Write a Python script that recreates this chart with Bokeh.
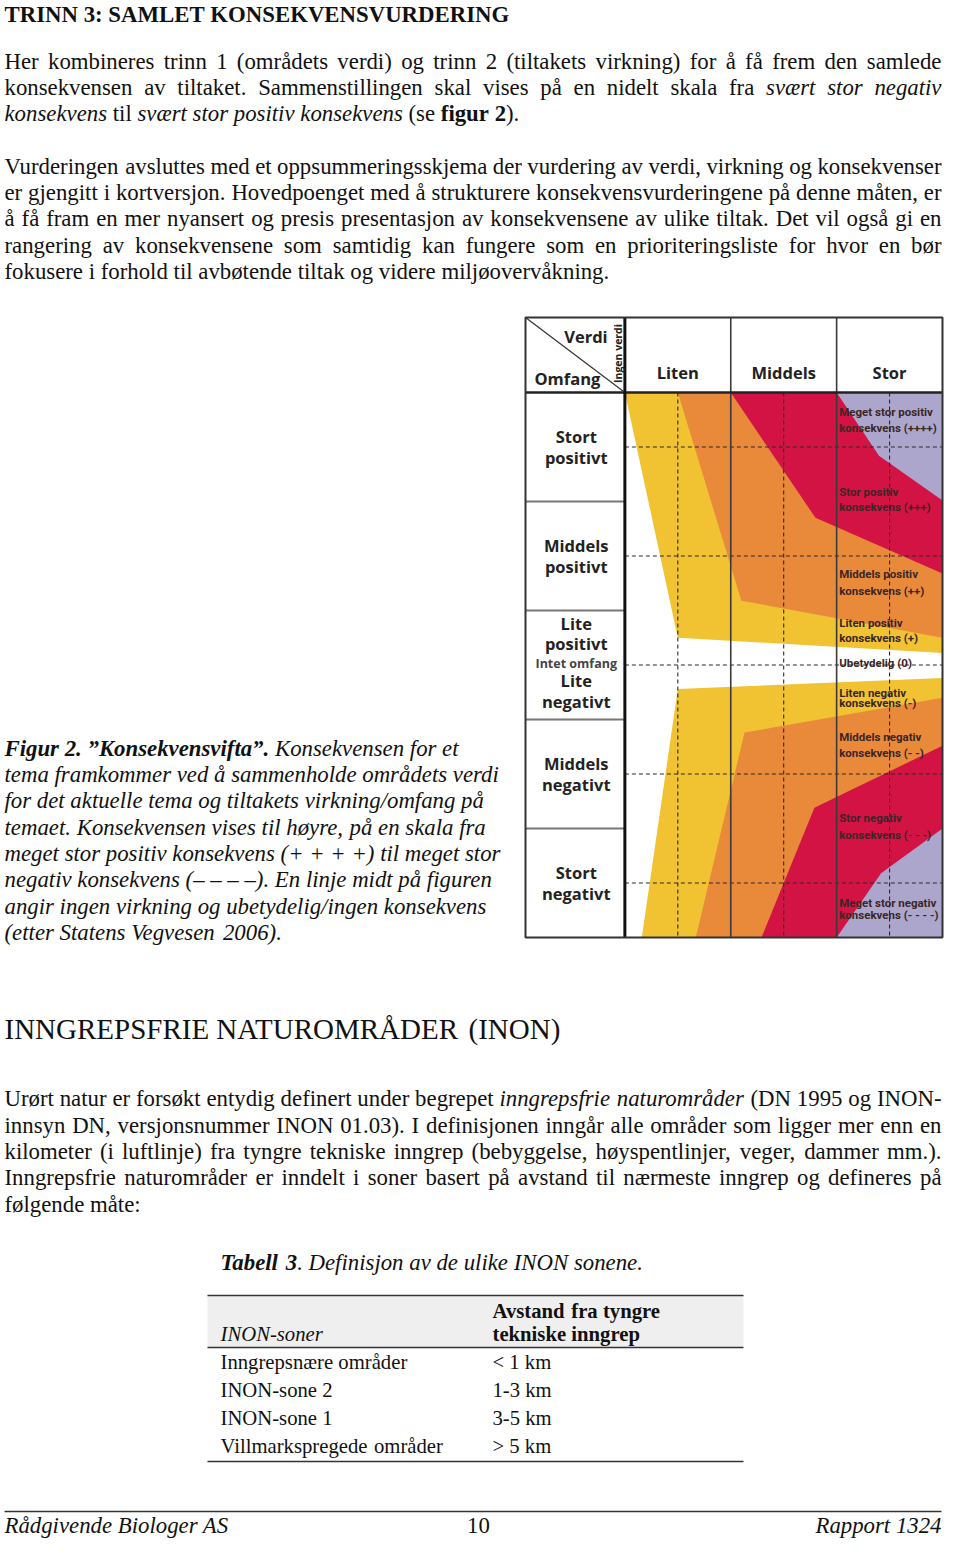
import math
from bokeh.plotting import figure
from bokeh.models import Range1d
from bokeh.core.properties import value
from bokeh.embed import file_html
from bokeh.resources import INLINE

# ------------------------------------------------------------------ data
# Konsekvensvifta: columns (verdi) and rows (omfang)
verdi_labels = ["Liten", "Middels", "Stor"]
omfang_labels = [["Stort", "positivt"], ["Middels", "positivt"], ["Lite", "positivt"],
                 ["Lite", "negativt"], ["Middels", "negativt"], ["Stort", "negativt"]]
omfang_centers = [2.0, 1.0, 0.29, -0.24, -1.0, -2.0]   # omfang scale (+2.5 .. -2.5)

# fan bands (verdi units 0..3 along x, omfang units along y)
fan_colors = ["#F1C232", "#E98A3B", "#D21344", "#ACA6CC"]
pos_xs = [[0.0, 0.50, 3.0, 3.0], [0.50, 1.10, 3.0, 3.0], [1.0, 1.80, 3.0, 3.0], [2.0, 2.40, 3.0, 3.0]]
pos_ys = [[2.5, 0.25, 0.11, 2.5], [2.5, 0.59, 0.25, 2.5], [2.5, 1.35, 0.84, 2.5], [2.5, 1.92, 1.51, 2.5]]
neg_xs = [[0.50, 0.16, 3.0, 3.0], [1.13, 0.67, 3.0, 3.0], [1.79, 1.29, 3.0, 3.0], [2.42, 2.0, 3.0, 3.0]]
neg_ys = [[-0.22, -2.5, -2.5, -0.12], [-0.62, -2.5, -2.5, -0.30], [-1.31, -2.5, -2.5, -0.74], [-1.91, -2.5, -2.5, -1.50]]

konsekvens_labels = [
    ["Meget stor positiv", "konsekvens (++++)"],
    ["Stor positiv", "konsekvens  (+++)"],
    ["Middels positiv", "konsekvens (++)"],
    ["Liten positiv", "konsekvens (+)"],
    ["Ubetydelig (0)"],
    ["Liten negativ", "konsekvens (-)"],
    ["Middels negativ", "konsekvens (- -)"],
    ["Stor negativ", "konsekvens (- - -)"],
    ["Meget stor negativ", "konsekvens  (- - - -)"],
]
konsekvens_y = [[2.317, 2.170], [1.583, 1.445], [0.839, 0.683], [0.381, 0.252], [0.014],
                [-0.261, -0.353], [-0.665, -0.803], [-1.408, -1.564], [-2.179, -2.289]]

# INON table
inon_zones = ["Inngrepsnære områder", "INON-sone 2", "INON-sone 1", "Villmarkspregede områder"]
inon_dist = ["< 1 km", "1-3 km", "3-5 km", "> 5 km"]

# page texts
HEAD1 = [("TRINN 3: SAMLET KONSEKVENSVURDERING", "B")]
PARA1 = [
    [("Her kombineres trinn 1 (områdets verdi) og trinn 2 (tiltakets virkning) for å få frem den samlede", "R")],
    [("konsekvensen av tiltaket. Sammenstillingen skal vises på en nidelt skala fra ", "R"), ("svært stor negativ", "I")],
    [("konsekvens", "I"), (" til ", "R"), ("svært stor positiv konsekvens", "I"), (" (se ", "R"), ("figur 2", "B"), (").", "R")],
]
PARA2 = [
    [("Vurderingen avsluttes med et oppsummeringsskjema der vurdering av verdi, virkning og konsekvenser", "R")],
    [("er gjengitt i kortversjon. Hovedpoenget med å strukturere konsekvensvurderingene på denne måten, er", "R")],
    [("å få fram en mer nyansert og presis presentasjon av konsekvensene av ulike tiltak. Det vil også gi en", "R")],
    [("rangering av konsekvensene som samtidig kan fungere som en prioriteringsliste for hvor en bør", "R")],
    [("fokusere i forhold til avbøtende tiltak og videre miljøovervåkning.", "R")],
]
CAPTION = [
    [("Figur 2. ”Konsekvensvifta”.", "BI"), (" Konsekvensen for et", "I")],
    [("tema framkommer ved å sammenholde områdets verdi", "I")],
    [("for det aktuelle tema og tiltakets virkning/omfang på", "I")],
    [("temaet. Konsekvensen vises til høyre, på en skala fra", "I")],
    [("meget stor positiv konsekvens (+ + + +) til meget stor", "I")],
    [("negativ konsekvens (– – – –). En linje midt på figuren", "I")],
    [("angir ingen virkning og ubetydelig/ingen konsekvens", "I")],
    [("(etter Statens Vegvesen 2006).", "I")],
]
HEAD2 = [("INNGREPSFRIE NATUROMRÅDER (INON)", "R")]
PARA3 = [
    [("Urørt natur er forsøkt entydig definert under begrepet ", "R"), ("inngrepsfrie naturområder", "I"), (" (DN 1995 og INON-", "R")],
    [("innsyn DN, versjonsnummer INON 01.03). I definisjonen inngår alle områder som ligger mer enn en", "R")],
    [("kilometer (i luftlinje) fra tyngre tekniske inngrep (bebyggelse, høyspentlinjer, veger, dammer mm.).", "R")],
    [("Inngrepsfrie naturområder er inndelt i soner basert på avstand til nærmeste inngrep og defineres på", "R")],
    [("følgende måte:", "R")],
]
TABLE_CAPTION = [("Tabell 3", "BI"), (". Definisjon av de ulike INON sonene.", "I")]
FOOTER = ["Rådgivende Biologer AS", "10", "Rapport 1324"]

# ------------------------------------------------------------------ font metrics (Times / Liberation Serif)
LOW = "abcdefghijklmnopqrstuvwxyz"
UP = "ABCDEFGHIJKLMNOPQRSTUVWXYZ"
def mk(lower, upper, other):
    d = dict(zip(LOW, lower)); d.update(zip(UP, upper)); d.update(other)
    for c in "0123456789":
        d.setdefault(c, 500)
    return d
W = {
    "R": mk([444,500,444,500,444,333,500,500,278,278,500,278,778,500,500,500,500,333,389,278,500,500,722,500,500,444],
            [722,667,667,722,611,556,722,722,333,389,722,611,889,722,722,556,722,667,556,611,722,722,944,722,722,611],
            {" ":250,"(":333,")":333,"+":564,",":250,"-":333,".":250,"/":278,":":278,"<":564,">":564,
             "æ":667,"ø":500,"å":444,"Å":722,"Ø":722,"–":500,"”":444}),
    "I": mk([500,500,444,500,444,278,500,500,278,278,444,278,722,500,500,500,500,389,389,278,500,444,667,444,444,389],
            [611,611,667,722,611,611,722,722,333,444,667,556,833,667,722,611,722,611,500,556,722,611,833,611,556,556],
            {" ":250,"(":333,")":333,"+":675,",":250,"-":333,".":250,"/":278,":":333,
             "æ":667,"ø":500,"å":500,"–":500,"”":556}),
    "B": mk([500,556,444,556,444,333,500,556,278,333,556,278,833,556,500,556,556,444,389,333,556,500,722,500,500,444],
            [722,667,722,722,667,611,778,778,389,500,778,667,944,722,778,611,778,722,556,667,722,722,1000,722,722,667],
            {" ":250,":":333,".":250,",":250,"(":333,")":333,"-":333}),
    "BI": mk([500,500,444,500,444,333,500,556,278,278,500,278,778,556,500,500,500,389,389,278,556,444,667,500,444,389],
             [667,667,667,722,667,667,722,778,389,500,667,611,889,722,722,611,722,667,556,611,722,667,889,667,611,611],
             {" ":250,".":250,"”":500,":":333}),
}
STYLE = {"R": "normal", "I": "italic", "B": "bold", "BI": "bold italic"}
MID = 0.3375          # em-box middle above the alphabetic baseline (Liberation Serif)

# ------------------------------------------------------------------ page geometry (1 unit = 1 px)
PW, PH = 944, 1539
LEFT, RIGHT = 4.0, 941.0
EM, EM_H2, EM_TAB = 22.8, 29.0, 20.7
LS = 26.3

# chart unit system: verdi 0..3 columns, omfang +2.5..-2.5 rows
CW_REF = (953.0 - 627.0) / 3.0
LEFT_U = (525.0 - 627.0) / CW_REF
HEAD_V = (664.5 - 317.0) / 109.0
CHART_SX0, CHART_SX1 = 525.0, 942.0     # screen x of left column edge / right border
KX = (CHART_SX1 - CHART_SX0) / (3.0 - LEFT_U)
RH, CY0 = 109.0, 664.5

def fs(px):
    return f"{px:.2f}px"

p = figure(width=PW, height=PH, x_range=Range1d(0, PW), y_range=Range1d(PH, 0),
           output_backend="svg", toolbar_location=None, x_axis_location=None, y_axis_location=None,
           min_border=0, outline_line_color=None, background_fill_color="white", border_fill_color="white")
p.grid.visible = False
p.extra_x_ranges = {"cx": Range1d(LEFT_U - CHART_SX0 / KX, LEFT_U + (PW - CHART_SX0) / KX)}
p.extra_y_ranges = {"cy": Range1d((CY0 - PH) / RH, CY0 / RH)}
C = dict(x_range_name="cx", y_range_name="cy")

def ux(ref_x):
    """chart unit from a position read on the reference chart"""
    return (ref_x - 627.0) / CW_REF

# ------------------------------------------------------------------ text layout helpers
groups = {}
def put(x, y, txt, style, em, align="left"):
    g = groups.setdefault((style, em, align), {"x": [], "y": [], "t": []})
    g["x"].append(x); g["y"].append(y - MID * em); g["t"].append(txt)

def width(txt, style, em):
    return sum(W[style].get(c, 500) for c in txt) / 1000.0 * em

def set_line(segments, y, em, justify=False, left=LEFT, right=RIGHT):
    runs = []
    pending = False
    for text, style in segments:
        parts = text.split(" ")
        for i, part in enumerate(parts):
            if i > 0:
                pending = True
            if part == "":
                continue
            runs.append((part, style, pending and bool(runs)))
            pending = False
    sp = 0.25 * em
    gaps = sum(1 for r in runs if r[2])
    natural = sum(width(r[0], r[1], em) for r in runs) + gaps * sp
    extra = (right - left - natural) / gaps if (justify and gaps) else 0.0
    x = left
    for txt, style, spb in runs:
        if spb:
            x += sp + extra
        put(x, y, txt, style, em)
        x += width(txt, style, em)

def paragraph(lines, y0, em):
    for i, segs in enumerate(lines):
        set_line(segs, y0 + i * LS, em, justify=(i < len(lines) - 1))

set_line(HEAD1, 21.5, EM)
paragraph(PARA1, 68.3, EM)
paragraph(PARA2, 173.3, EM)
for i, segs in enumerate(CAPTION):
    set_line(segs, 755.5 + i * LS, EM)
set_line(HEAD2, 1038.0, EM_H2)
paragraph(PARA3, 1106.0, EM)

# table
T_L, T_R, T_C1, T_C2 = 207.0, 743.0, 220.0, 492.0
set_line(TABLE_CAPTION, 1270.0, EM, left=T_C1)
p.quad(left=T_L, right=T_R, top=1295.0, bottom=1347.0, fill_color="#EFEFEF", line_color=None)
p.segment(x0=[T_L] * 3, x1=[T_R] * 3, y0=[1295.0, 1347.0, 1461.0], y1=[1295.0, 1347.0, 1461.0],
          line_color="#333333", line_width=1.6)
set_line([("INON-soner", "I")], 1340.0, EM_TAB, left=T_C1)
set_line([("Avstand fra tyngre", "B")], 1317.0, EM_TAB, left=T_C2)
set_line([("tekniske inngrep", "B")], 1340.0, EM_TAB, left=T_C2)
for i, (z, d) in enumerate(zip(inon_zones, inon_dist)):
    set_line([(z, "R")], 1368.0 + i * 28.0, EM_TAB, left=T_C1)
    set_line([(d, "R")], 1368.0 + i * 28.0, EM_TAB, left=T_C2)

# footer
p.segment(x0=[LEFT], x1=[RIGHT], y0=[1511.0], y1=[1511.0], line_color="#333333", line_width=1.4)
put(LEFT, 1533.0, FOOTER[0], "I", EM)
put(478.0, 1533.0, FOOTER[1], "R", EM, align="center")
put(RIGHT, 1533.0, FOOTER[2], "I", EM, align="right")

for (style, em, align), g in groups.items():
    p.text(x=g["x"], y=g["y"], text=g["t"], text_font=value("Liberation Serif"),
           text_font_style=STYLE[style], text_font_size=fs(em), text_align=align,
           text_baseline="middle", text_color="#111111")

# ------------------------------------------------------------------ Konsekvensvifta
p.quad(left=LEFT_U, right=3.0, top=HEAD_V, bottom=-2.5, fill_color="white", line_color=None, **C)
p.patches(xs=pos_xs, ys=pos_ys, fill_color=fan_colors, line_color=None, **C)
p.patches(xs=neg_xs, ys=neg_ys, fill_color=fan_colors, line_color=None, **C)

# dashed guide lines at mid-cells
mid_u = [i + 0.5 for i in range(len(verdi_labels))]
p.segment(x0=mid_u, x1=mid_u, y0=[2.5] * 3, y1=[-2.5] * 3, line_color="#2a2a2a",
          line_width=1.1, line_dash="4 3", **C)
mid_v = [2.0, 1.0, 0.0, -1.0, -2.0]
p.segment(x0=[0.0] * 5, x1=[3.0] * 5, y0=mid_v, y1=mid_v, line_color="#2a2a2a",
          line_width=1.1, line_dash="4 3", **C)

# solid grid
p.segment(x0=[1.0, 2.0], x1=[1.0, 2.0], y0=[HEAD_V] * 2, y1=[-2.5] * 2, line_color="#3a3a3a", line_width=1.6, **C)
row_lines = [1.5, 0.5, -0.5, -1.5]
p.segment(x0=[LEFT_U] * 4, x1=[0.0] * 4, y0=row_lines, y1=row_lines, line_color="#777777", line_width=2.0, **C)
p.segment(x0=[LEFT_U], x1=[3.0], y0=[2.5], y1=[2.5], line_color="#222222", line_width=2.4, **C)
p.segment(x0=[LEFT_U], x1=[0.0], y0=[HEAD_V], y1=[2.5], line_color="#333333", line_width=1.2, **C)
p.segment(x0=[0.0], x1=[0.0], y0=[HEAD_V], y1=[-2.5], line_color="#111111", line_width=3.0, **C)
p.quad(left=LEFT_U, right=3.0, top=HEAD_V, bottom=-2.5, fill_color=None, line_color="#333333", line_width=2.0, **C)

# header labels
OS = value("Open Sans")
p.text(x=mid_u, y=[(CY0 - 372.0) / RH] * 3, text=verdi_labels, text_font=OS, text_font_style="bold",
       text_font_size=fs(16.5), text_align="center", text_baseline="middle", text_color="#222222", **C)
p.text(x=[ux(587.0)], y=[(CY0 - 336.0) / RH], text=["Verdi"], text_font=OS, text_font_style="bold",
       text_font_size=fs(16.5), text_align="center", text_baseline="middle", text_color="#222222", **C)
p.text(x=[ux(568.0)], y=[(CY0 - 378.0) / RH], text=["Omfang"], text_font=OS, text_font_style="bold",
       text_font_size=fs(16.5), text_align="center", text_baseline="middle", text_color="#222222", **C)
p.text(x=[ux(620.0)], y=[(CY0 - 353.0) / RH], text=["Ingen verdi"], text_font=OS,
       text_font_style="bold", text_font_size=fs(10.5), text_align="center", text_baseline="middle",
       angle=math.pi / 2, text_color="#222222", **C)

# row labels
row_u = LEFT_U / 2.0 + 0.01
rx, ry, rt = [], [], []
for lab, vc in zip(omfang_labels, omfang_centers):
    for k, t in enumerate(lab):
        rx.append(row_u); ry.append(vc + 0.095 - k * 0.19); rt.append(t)
p.text(x=rx, y=ry, text=rt, text_font=OS, text_font_style="bold", text_font_size=fs(16.5),
       text_align="center", text_baseline="middle", text_color="#222222", **C)
p.text(x=[row_u], y=[0.014], text=["Intet omfang"], text_font=OS, text_font_style="bold",
       text_font_size=fs(12.5), text_align="center", text_baseline="middle", text_color="#444444", **C)

# konsekvens labels
kx, ky, kt = [], [], []
lab_u = ux(847.0)
for lines, ys in zip(konsekvens_labels, konsekvens_y):
    for t, yv in zip(lines, ys):
        kx.append(lab_u); ky.append(yv); kt.append(t)
p.text(x=kx, y=ky, text=kt, text_font=value("Roboto"), text_font_style="bold", text_font_size=fs(11.5),
       text_align="left", text_baseline="middle", text_color="#3a2626", **C)

open("out.html", "w").write(file_html(p, INLINE))
